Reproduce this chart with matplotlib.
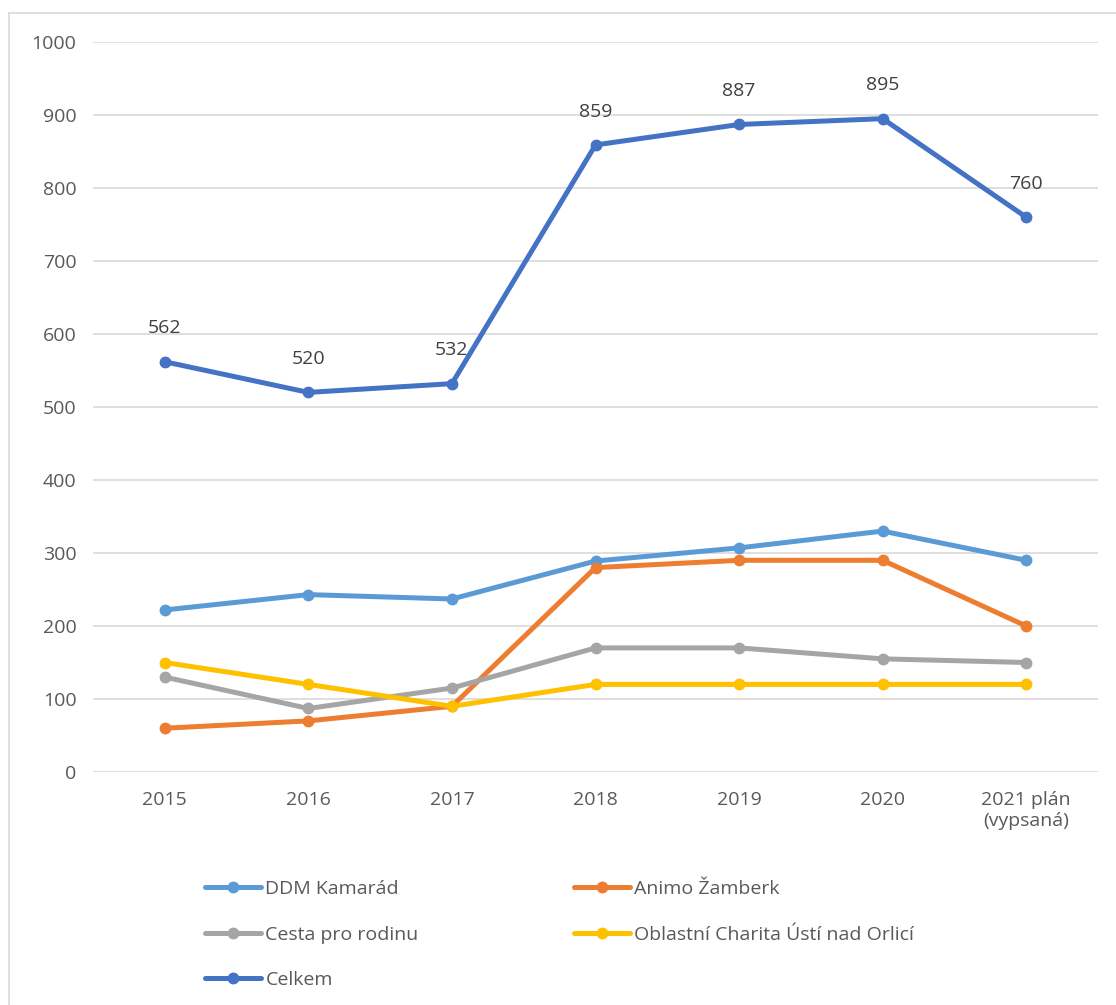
import matplotlib
import matplotlib.pyplot as plt
from matplotlib.lines import Line2D

matplotlib.use('Agg')

years = ['2015', '2016', '2017', '2018', '2019', '2020', '2021 plán\n(vypsaná)']
ddm = [222, 243, 237, 289, 307, 330, 290]
animo = [60, 70, 90, 280, 290, 290, 200]
cesta = [130, 87, 115, 170, 170, 155, 150]
charita = [150, 120, 90, 120, 120, 120, 120]
celkem = [562, 520, 532, 859, 887, 895, 760]

names = ['DDM Kamarád', 'Animo Žamberk', 'Cesta pro rodinu',
         'Oblastní Charita Ústí nad Orlicí', 'Celkem']
colors = ['#5B9BD5', '#ED7D31', '#A5A5A5', '#FFC000', '#4472C4']

plt.rcParams['font.family'] = ['Open Sans', 'DejaVu Sans']
txt = '#595959'
fs = 14

fig = plt.figure(figsize=(11.16, 10.05), dpi=100)
ax = fig.add_axes([93 / 1116, 1 - 772 / 1005, 1005 / 1116, 730 / 1005])

x = list(range(len(years)))
lines = {}
for name, vals, c in zip(names, [ddm, animo, cesta, charita, celkem], colors):
    ln, = ax.plot(x, vals, color=c, lw=3.6, marker='o', ms=7.5,
                  solid_capstyle='round', label=name)
    lines[name] = ln

for xi, v in zip(x, celkem):
    ax.annotate(str(v), (xi, v), xytext=(0, 24), textcoords='offset points',
                ha='center', va='center', fontsize=fs, color='#404040')

ax.set_xlim(-0.5, len(years) - 0.5)
ax.set_ylim(0, 1000)
ax.set_yticks(range(0, 1001, 100))
ax.set_xticks(x)
ax.set_xticklabels(years)
ax.grid(axis='y', color='#D9D9D9', lw=1.2)
ax.set_axisbelow(True)
for s in ax.spines.values():
    s.set_visible(False)
ax.tick_params(axis='both', length=0, labelsize=fs, labelcolor=txt)
ax.tick_params(axis='y', pad=12)
ax.tick_params(axis='x', pad=14)

order = ['DDM Kamarád', 'Cesta pro rodinu', 'Celkem', 'Animo Žamberk',
         'Oblastní Charita Ústí nad Orlicí']
leg = fig.legend([lines[n] for n in order], order, ncol=2, loc='upper left',
                 bbox_to_anchor=(205 / 1116, 1 - 880 / 1005), frameon=False,
                 fontsize=fs, handlelength=2.9, handletextpad=0.2,
                 labelspacing=1.42, columnspacing=8.0, borderpad=0,
                 borderaxespad=0)
for t in leg.get_texts():
    t.set_color(txt)

# chart border (only left and top edges fall inside the image)
fig.add_artist(Line2D([9 / 1116, 9 / 1116], [0, 1 - 13 / 1005],
                      transform=fig.transFigure, color='#D9D9D9', lw=1.2))
fig.add_artist(Line2D([9 / 1116, 1], [1 - 13 / 1005, 1 - 13 / 1005],
                      transform=fig.transFigure, color='#D9D9D9', lw=1.2))

fig.savefig('out.png', dpi=100, facecolor='white')
